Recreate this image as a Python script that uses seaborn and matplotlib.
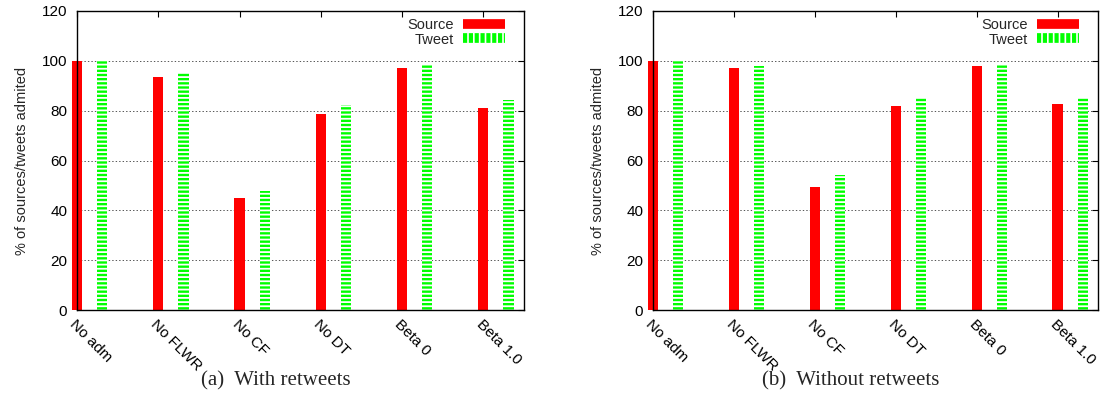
import matplotlib
matplotlib.use("Agg")
import matplotlib.pyplot as plt
import seaborn as sns
import pandas as pd
import numpy as np
from matplotlib.lines import Line2D

categories = ["No adm", "No FLWR", "No CF", "No DT", "Beta 0", "Beta 1.0"]
source_with = [100, 93.4, 44.9, 78.7, 97.1, 81.2]
tweet_with = [100, 95.2, 47.9, 82.3, 98.4, 84.3]
source_without = [100, 97.1, 49.3, 82.0, 98.0, 82.7]
tweet_without = [100, 98.1, 54.2, 84.9, 98.7, 85.1]
captions = ["(a)  With retweets", "(b)  Without retweets"]
ylabel = "% of sources/tweets admited"
yticks = [0, 20, 40, 60, 80, 100, 120]

sns.set_style("white")
plt.rcParams["font.family"] = ["Liberation Sans", "DejaVu Sans"]
plt.rcParams["hatch.linewidth"] = 1.3
plt.rcParams["lines.scale_dashes"] = False

RED = "#ff0000"
GREEN = "#00ff00"
OFFSET = 0.31
BW = 0.125
FS = 11

fig = plt.figure(figsize=(11.03, 3.98), dpi=100)
W, H = 1103, 398
panels = [
    (77, 524, source_with, tweet_with, captions[0], 276),
    (653, 1098, source_without, tweet_without, captions[1], 851),
]
for (x0, x1, src, twt, cap, capx) in panels:
    ax = fig.add_axes([x0 / W, 1 - 310 / H, (x1 - x0) / W, 299 / H])
    idx = np.arange(len(categories))
    dfs = pd.DataFrame({"x": idx.astype(float), "v": src})
    dft = pd.DataFrame({"x": idx + OFFSET, "v": twt})
    sns.barplot(data=dfs, x="x", y="v", native_scale=True, width=BW,
                color=RED, saturation=1, errorbar=None, ax=ax,
                linewidth=0)
    n_src = len(ax.patches)
    sns.barplot(data=dft, x="x", y="v", native_scale=True, width=BW,
                color=GREEN, saturation=1, errorbar=None, ax=ax,
                linewidth=0)
    for i, p in enumerate(ax.patches):
        p.set_clip_on(False)
        if i >= n_src:
            p.set_hatch("----")
            p.set_edgecolor("white")
            p.set_linewidth(0)
    ax.set_xlim(0, 5.5)
    ax.set_ylim(0, 120)
    ax.set_yticks(yticks)
    ax.set_yticklabels([str(t) for t in yticks], fontsize=FS)
    ax.set_xticks(idx)
    ax.set_xticklabels(categories, fontsize=FS, rotation=-45, ha="left",
                       va="top", rotation_mode="anchor")
    ax.tick_params(axis="both", direction="in", length=4, width=0.8,
                   top=True, right=True, colors="black")
    ax.tick_params(axis="y", pad=7)
    ax.tick_params(axis="x", pad=5)
    ax.yaxis.grid(True, linestyle=(0, (1, 1.5)), color="#555555", linewidth=0.7)
    ax.xaxis.grid(False)
    ax.set_axisbelow(True)
    for s in ax.spines.values():
        s.set_visible(True)
        s.set_color("black")
        s.set_linewidth(1.0)
    ax.set_xlabel("")
    ax.set_ylabel(ylabel, fontsize=10.5, labelpad=9)
    handles = [
        Line2D([], [], color=RED, lw=7, solid_capstyle="butt"),
        Line2D([], [], color=GREEN, lw=7, linestyle=(0, (3.0, 1.2)),
               dash_capstyle="butt"),
    ]
    aw = x1 - x0
    ax.legend(handles, ["Source", "Tweet"], loc="upper right", frameon=False,
              markerfirst=False, fontsize=10.5, handlelength=2.9,
              handletextpad=0.6, labelspacing=0.05, borderaxespad=0.0,
              bbox_to_anchor=((x1 - 13 - x0) / aw, 1 - 1 / 299))
    fig.text(capx / W, 1 - 381 / H, cap, ha="center", va="center",
             fontsize=15, family=["Liberation Serif", "DejaVu Serif"])

fig.savefig("out.png", dpi=100)
